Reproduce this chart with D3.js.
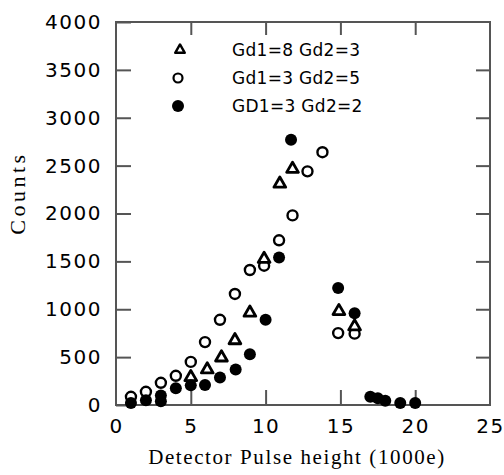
<!DOCTYPE html>
<html>
<head>
<meta charset="utf-8">
<script src="https://cdn.jsdelivr.net/npm/d3@7"></script>
<style>
  body { margin: 0; background: #fff; }
  svg { display: block; }
</style>
</head>
<body>
<div id="chart"></div>
<script>
// values
const triX = [5, 6.1, 7.05, 7.95, 8.95, 9.9, 10.95, 11.8, 14.9, 15.95];
const triY = [290, 370, 495, 675, 963, 1525, 2310, 2465, 980, 820];

const openX = [1, 2, 3, 4, 5, 5.95, 6.95, 7.95, 8.95, 9.9, 10.9, 11.8, 12.8, 13.8, 14.85, 15.95];
const openY = [86, 138, 232, 305, 450, 657, 890, 1160, 1410, 1455, 1720, 1980, 2440, 2640, 751, 745];

const fillX = [1, 2, 3, 3, 4, 5, 5.95, 6.95, 8, 8.95, 10, 10.9, 11.7, 14.85, 15.95, 17, 17.5, 18, 19, 20];
const fillY = [20, 50, 100, 40, 175, 205, 208, 288, 370, 530, 890, 1540, 2770, 1222, 958, 85, 70, 45, 20, 20];

const legendLabels = ["Gd1=8 Gd2=3", "Gd1=3 Gd2=5", "GD1=3 Gd2=2"];
const xTicks = [0, 5, 10, 15, 20, 25];
const yTicks = [0, 500, 1000, 1500, 2000, 2500, 3000, 3500, 4000];

const width = 504, height = 475;
const x0 = 116, x1 = 490, y0 = 405, y1 = 22;
const sans = "'DejaVu Sans', sans-serif";
const serif = "'Liberation Serif', 'Times New Roman', serif";
const axisColor = "#555";

const svg = d3.select("#chart").append("svg")
    .attr("width", width)
    .attr("height", height);

const x = d3.scaleLinear().domain([0, 25]).range([x0, x1]);
const y = d3.scaleLinear().domain([0, 4000]).range([y0, y1]);

// frame
svg.append("rect")
    .attr("x", x0).attr("y", y1)
    .attr("width", x1 - x0).attr("height", y0 - y1)
    .attr("fill", "none")
    .attr("stroke", axisColor)
    .attr("stroke-width", 2);

function styleAxis(g) {
    g.select(".domain").remove();
    g.selectAll(".tick line").attr("stroke", axisColor).attr("stroke-width", 2);
    g.selectAll("text")
        .attr("fill", "#000")
        .style("font-family", sans)
        .style("font-size", "20px")
        .style("letter-spacing", "1.5px");
}

svg.append("g")
    .attr("transform", "translate(" + x0 + ",0)")
    .call(d3.axisLeft(y).tickValues(yTicks).tickSize(-15).tickPadding(14).tickFormat(d3.format("d")))
    .call(styleAxis);

svg.append("g")
    .attr("transform", "translate(" + x1 + ",0)")
    .call(d3.axisRight(y).tickValues(yTicks.slice(1, -1)).tickSize(-14).tickFormat(""))
    .call(styleAxis);

svg.append("g")
    .attr("transform", "translate(0," + y0 + ")")
    .call(d3.axisBottom(x).tickValues(xTicks).tickSize(-15).tickPadding(14).tickFormat(d3.format("d")))
    .call(styleAxis)
    .call(g => g.selectAll(".tick").filter(d => d === 0 || d === 25).select("line").remove());

svg.append("g")
    .attr("transform", "translate(0," + y1 + ")")
    .call(d3.axisTop(x).tickValues(xTicks.slice(1, -1)).tickSize(-13).tickFormat(""))
    .call(styleAxis);

// axis titles
svg.append("text")
    .attr("transform", "translate(25,193) rotate(-90)")
    .attr("text-anchor", "middle")
    .style("font-family", serif)
    .style("font-size", "22px")
    .style("letter-spacing", "3.5px")
    .text("Counts");

svg.append("text")
    .attr("x", 297).attr("y", 464)
    .attr("text-anchor", "middle")
    .style("font-family", serif)
    .style("font-size", "21px")
    .style("letter-spacing", "1.6px")
    .text("Detector Pulse height (1000e)");

// marks
const tri = d3.symbol().type(d3.symbolTriangle).size(60);

const plot = svg.append("g");

plot.selectAll(".open")
    .data(openX.map((d, i) => [d, openY[i]]))
    .join("circle")
    .attr("class", "open")
    .attr("cx", d => x(d[0]))
    .attr("cy", d => y(d[1]))
    .attr("r", 5)
    .attr("fill", "#fff")
    .attr("stroke", "#000")
    .attr("stroke-width", 2.4);

plot.selectAll(".tri")
    .data(triX.map((d, i) => [d, triY[i]]))
    .join("path")
    .attr("class", "tri")
    .attr("transform", d => "translate(" + x(d[0]) + "," + y(d[1]) + ")")
    .attr("d", tri)
    .attr("fill", "#fff")
    .attr("stroke", "#000")
    .attr("stroke-width", 2.8)
    .attr("stroke-linejoin", "round");

plot.selectAll(".fill")
    .data(fillX.map((d, i) => [d, fillY[i]]))
    .join("circle")
    .attr("class", "fill")
    .attr("cx", d => x(d[0]))
    .attr("cy", d => y(d[1]))
    .attr("r", 6)
    .attr("fill", "#000");

// legend
const legend = svg.append("g");
const rowY = [50, 78, 106];

legend.append("path")
    .attr("transform", "translate(180," + rowY[0] + ")")
    .attr("d", d3.symbol().type(d3.symbolTriangle).size(40))
    .attr("fill", "#fff")
    .attr("stroke", "#000")
    .attr("stroke-width", 2.4)
    .attr("stroke-linejoin", "round");

legend.append("circle")
    .attr("cx", 178).attr("cy", rowY[1]).attr("r", 4.5)
    .attr("fill", "#fff").attr("stroke", "#000").attr("stroke-width", 2.2);

legend.append("circle")
    .attr("cx", 178).attr("cy", rowY[2]).attr("r", 6)
    .attr("fill", "#000");

legend.selectAll(".lab")
    .data(legendLabels)
    .join("text")
    .attr("class", "lab")
    .attr("x", 232)
    .attr("y", (d, i) => rowY[i])
    .attr("dy", "0.36em")
    .style("font-family", sans)
    .style("font-size", "17px")
    .style("letter-spacing", "0.3px")
    .text(d => d);
</script>
</body>
</html>
